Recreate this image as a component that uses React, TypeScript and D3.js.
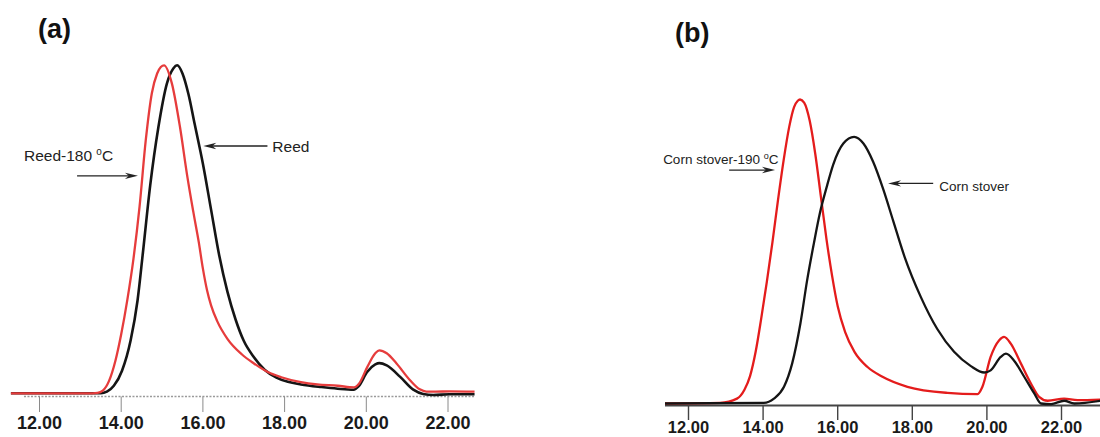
import React from "react";
import * as d3 from "d3";

// Elution time (min) vs relative detector response (peak = 100)
const reed: [number, number][] = [
  [11.3, 0], [13.5, 0], [13.65, 0.5], [13.82, 2.3], [14.02, 6.9], [14.23, 16.1], [14.4, 28.3],
  [14.53, 42.7], [14.71, 63.4], [14.91, 81.1], [15.12, 94.5], [15.28, 99.1], [15.37, 100],
  [15.5, 97.5], [15.65, 91], [15.8, 82], [16.0, 70], [16.2, 56], [16.4, 42], [16.6, 31],
  [16.8, 22.5], [17.0, 16], [17.25, 11], [17.51, 7.2], [17.8, 4.8], [18.08, 3.5], [18.4, 2.7],
  [18.9, 1.9], [19.3, 1.4], [19.69, 1.1], [19.81, 2.1], [20.02, 6.5], [20.22, 8.8],
  [20.32, 9.2], [20.5, 8.5], [20.83, 5.0], [21.15, 1.1], [21.39, -0.2], [21.64, -0.5],
  [22.04, -0.3], [22.65, -0.3],
];

const reed180: [number, number][] = [
  [11.3, 0], [13.3, 0], [13.42, 0.1], [13.55, 0.8], [13.7, 3.7], [13.86, 10], [14.0, 18],
  [14.15, 28.5], [14.3, 41], [14.45, 57], [14.6, 77], [14.75, 91.5], [14.88, 97.5], [14.97, 99.5],
  [15.05, 100], [15.24, 94.5], [15.44, 81.1], [15.62, 66], [15.77, 55], [15.9, 46], [16.0, 38],
  [16.1, 31.5], [16.2, 26.8], [16.35, 22], [16.6, 16.6], [16.95, 11.9], [17.25, 9.1],
  [17.6, 6.4], [17.92, 4.9], [18.4, 3.4], [18.8, 2.7], [19.3, 2.3], [19.7, 1.8], [19.82, 2.9],
  [20.02, 7.9], [20.22, 12.2], [20.32, 13.1], [20.5, 12.2], [20.74, 9.1], [21.07, 4.0],
  [21.31, 1.2], [21.47, 0.5], [21.7, 0.5], [22.04, 0.6], [22.65, 0.5],
];

const cornStover: [number, number][] = [
  [11.37, 0], [14.02, 0.2], [14.29, 1.6], [14.56, 5.5], [14.78, 13.2], [15.0, 26.3],
  [15.18, 40.5], [15.36, 52.6], [15.52, 62.5], [15.7, 71], [15.88, 78.6], [16.15, 85.5],
  [16.44, 87.7], [16.69, 85.5], [16.95, 79.5], [17.22, 70.5], [17.49, 60], [17.8, 48],
  [18.23, 35], [18.67, 24.5], [19.12, 17], [19.57, 12.3], [19.93, 10.2], [20.1, 10.9],
  [20.37, 15.3], [20.51, 16.4], [20.73, 14.1], [21.0, 8.8], [21.27, 3.3], [21.45, 0],
  [21.72, -0.2], [22.07, 0.9], [22.34, 0], [23.06, 0.9],
];

const cornStover190: [number, number][] = [
  [11.37, 0], [12.85, 0.2], [13.3, 1.6], [13.5, 4.5], [13.65, 9], [13.8, 17], [13.95, 28],
  [14.1, 40], [14.25, 53], [14.4, 67], [14.55, 80], [14.7, 91], [14.83, 97.5], [14.93, 99.6],
  [14.99, 100], [15.1, 99], [15.25, 93], [15.4, 82], [15.55, 68], [15.7, 54], [15.85, 42],
  [16.0, 32], [16.2, 23.5], [16.45, 17], [16.8, 12], [17.2, 8.8], [17.87, 5.5], [18.94, 3.5],
  [19.75, 3.1], [19.88, 5.5], [20.1, 15.3], [20.33, 20.8], [20.46, 21.9], [20.64, 19.7],
  [20.91, 13.2], [21.18, 6.6], [21.4, 2.2], [21.63, 0.9], [22.07, 1.6], [22.43, 1.1],
  [23.06, 1.3],
];

const tickValues = [12, 14, 16, 18, 20, 22];
const tickLabels = ["12.00", "14.00", "16.00", "18.00", "20.00", "22.00"];
const panelTitles = ["(a)", "(b)"];

const FONT = "'Liberation Sans', Arial, Helvetica, sans-serif";

function Arrow({ x1, x2, y }: { x1: number; x2: number; y: number }) {
  const dir = x2 > x1 ? 1 : -1;
  const head = 13;
  const hw = 3.2;
  return (
    <g>
      <line x1={x1} y1={y} x2={x2 - dir * head * 0.6} y2={y} stroke="#222" strokeWidth={1.3} />
      <path
        d={`M${x2},${y} L${x2 - dir * head},${y - hw} L${x2 - dir * head * 0.7},${y} L${x2 - dir * head},${y + hw} Z`}
        fill="#222"
      />
    </g>
  );
}

export default function App() {
  const xA = d3.scaleLinear().domain([12, 22]).range([39.5, 448]);
  const yA = d3.scaleLinear().domain([0, 100]).range([393.3, 65.3]);
  const xB = d3.scaleLinear().domain([12, 22]).range([688.5, 1061.5]);
  const yB = d3.scaleLinear().domain([0, 100]).range([403.5, 99.5]);

  const lineA = d3
    .line<[number, number]>()
    .x((d) => xA(d[0]))
    .y((d) => yA(d[1]))
    .curve(d3.curveMonotoneX);
  const lineB = d3
    .line<[number, number]>()
    .x((d) => xB(d[0]))
    .y((d) => yB(d[1]))
    .curve(d3.curveMonotoneX);

  const axisYA = 396.5;
  const axisYB = 405.5;

  return (
    <div style={{ position: "fixed", left: 0, top: 0 }}>
      <svg width={1100} height={437} style={{ display: "block", background: "#fff" }} fontFamily={FONT}>
        <rect x={0} y={0} width={1100} height={437} fill="#fff" />
        {/* Titles */}
        <text x={38} y={38} fontSize={27} fontWeight="bold" fill="#111">{panelTitles[0]}</text>
        <text x={675} y={41.5} fontSize={27} fontWeight="bold" fill="#111">{panelTitles[1]}</text>

        {/* Panel (a) axis */}
        <line x1={xA(11.62)} x2={xA(22.65)} y1={axisYA} y2={axisYA} stroke="#9a9a9a" strokeWidth={1.3} strokeDasharray="2 1.5" />
        {tickValues.map((t, i) => (
          <g key={"ta" + t}>
            <line x1={xA(t)} x2={xA(t)} y1={axisYA} y2={412} stroke="#8a8a8a" strokeWidth={1} />
            <text x={xA(t)} y={429} textAnchor="middle" fontSize={18} fontWeight="bold" fill="#1a1a1a">
              {tickLabels[i]}
            </text>
          </g>
        ))}

        {/* Panel (a) curves */}
        <path d={lineA(reed) || ""} fill="none" stroke="#151515" strokeWidth={2.6} strokeLinejoin="round" />
        <path d={lineA(reed180) || ""} fill="none" stroke="#e63c3c" strokeWidth={2.3} strokeLinejoin="round" />

        {/* Panel (a) annotations */}
        <text x={xA(11.62)} y={yA(70.8)} fontSize={15.5} fill="#222">
          Reed-180 <tspan fontSize={10} dy={-6}>o</tspan><tspan dy={6}>C</tspan>
        </text>
        <Arrow x1={xA(12.92)} x2={xA(14.41)} y={yA(66.3)} />
        <text x={xA(17.7)} y={yA(73.6)} fontSize={15.5} fill="#222">Reed</text>
        <Arrow x1={xA(17.58)} x2={xA(16.01)} y={yA(75.4)} />

        {/* Panel (b) axis */}
        <line x1={xB(11.37)} x2={1100} y1={axisYB} y2={axisYB} stroke="#444" strokeWidth={2} />
        {tickValues.map((t, i) => (
          <g key={"tb" + t}>
            <line x1={xB(t)} x2={xB(t)} y1={axisYB} y2={420} stroke="#444" strokeWidth={1.4} />
            <text x={xB(t)} y={433} textAnchor="middle" fontSize={16.5} fontWeight="bold" fill="#1a1a1a">
              {tickLabels[i]}
            </text>
          </g>
        ))}

        {/* Panel (b) curves */}
        <path d={lineB(cornStover190) || ""} fill="none" stroke="#e41c1c" strokeWidth={2.3} strokeLinejoin="round" />
        <path d={lineB(cornStover) || ""} fill="none" stroke="#151515" strokeWidth={2.3} strokeLinejoin="round" />

        {/* Panel (b) annotations */}
        <text x={xB(11.32)} y={yB(78.8)} fontSize={13.5} fill="#222">
          Corn stover-190 <tspan fontSize={9} dy={-5}>o</tspan><tspan dy={5}>C</tspan>
        </text>
        <Arrow x1={xB(13.09)} x2={xB(14.32)} y={yB(76.8)} />
        <text x={xB(18.72)} y={yB(69.9)} fontSize={13.5} fill="#222">Corn stover</text>
        <Arrow x1={xB(18.56)} x2={xB(17.35)} y={yB(72.4)} />
      </svg>
    </div>
  );
}
